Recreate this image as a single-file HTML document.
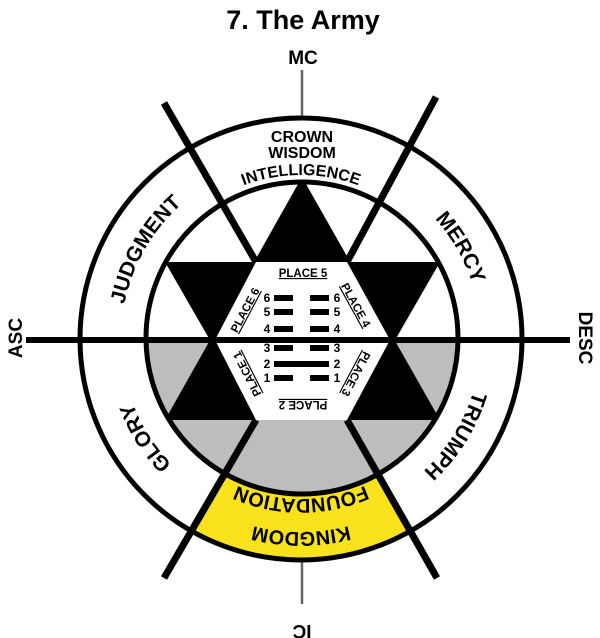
<!DOCTYPE html>
<html><head><meta charset="utf-8"><style>html,body{margin:0;padding:0;background:#fff}svg{display:block}</style></head>
<body>
<svg width="600" height="638" viewBox="0 0 600 638" xmlns="http://www.w3.org/2000/svg" font-family="Liberation Sans, Arial, sans-serif" font-weight="bold">
<defs>
<clipPath id="outer"><circle cx="301" cy="339" r="221"/></clipPath>
<clipPath id="inner"><circle cx="302" cy="338" r="156"/></clipPath>
<path id="c180" d="M121,339 A180,180 0 1 1 481,339 A180,180 0 1 1 121,339"/>
<path id="c193" d="M108,339 A193,193 0 1 1 494,339 A193,193 0 1 1 108,339"/>
<path id="c160" d="M141,339 A160,160 0 1 1 461,339 A160,160 0 1 1 141,339"/>
<path id="c164" d="M137,339 A164,164 0 1 1 465,339 A164,164 0 1 1 137,339"/>
</defs>
<text x="303" y="29" font-size="27" text-anchor="middle">7. The Army</text>
<text x="303" y="64" font-size="19" text-anchor="middle">MC</text>
<line x1="302" y1="70" x2="302" y2="119" stroke="#666" stroke-width="2.5"/>
<line x1="302" y1="560" x2="302" y2="604" stroke="#666" stroke-width="2.5"/>
<text x="302" y="615" font-size="19" text-anchor="middle" transform="rotate(180 302 620)">IC</text>
<text font-size="19" text-anchor="middle" transform="translate(22 338) rotate(-90)">ASC</text>
<text font-size="19" text-anchor="middle" transform="translate(579 338) rotate(90)">DESC</text>

<circle cx="301" cy="339" r="221" fill="#fff"/>
<polygon points="256,420 347,420 472,640 131,640" fill="#f8e21c" clip-path="url(#outer)"/>
<circle cx="302" cy="338" r="156" fill="#fff"/>
<g clip-path="url(#inner)">
<rect x="140" y="340" width="330" height="170" fill="#bdbdbd"/>
<polygon points="302,177 440,420 165,420" fill="#000"/>
<polygon points="165,262 440,262 349,420 256,420" fill="#000"/>
</g>
<polygon points="256,262 347,262 390,340 347,420 256,420 215,340" fill="#fff"/>

<line x1="26" y1="340" x2="570" y2="340" stroke="#000" stroke-width="6"/>
<line x1="164" y1="103" x2="256" y2="262" stroke="#000" stroke-width="7"/>
<line x1="436" y1="97" x2="347" y2="262" stroke="#000" stroke-width="7"/>
<line x1="256" y1="420" x2="164" y2="578" stroke="#000" stroke-width="7"/>
<line x1="347" y1="420" x2="437" y2="578" stroke="#000" stroke-width="7"/>
<circle cx="301" cy="339" r="221" fill="none" stroke="#000" stroke-width="5"/>
<circle cx="302" cy="338" r="156" fill="none" stroke="#000" stroke-width="5"/>

<text x="302" y="142" font-size="16" text-anchor="middle">CROWN</text>
<text x="302" y="158" font-size="16" text-anchor="middle">WISDOM</text>
<text font-size="16" text-anchor="middle"><textPath href="#c164" startOffset="25%">INTELLIGENCE</textPath></text>
<text font-size="21" text-anchor="middle"><textPath href="#c180" startOffset="8.3%">JUDGMENT</textPath></text>
<text font-size="21" text-anchor="middle"><textPath href="#c180" startOffset="41.7%">MERCY</textPath></text>
<text font-size="21" text-anchor="middle"><textPath href="#c180" startOffset="58.9%">TRIUMPH</textPath></text>
<text font-size="21" text-anchor="middle"><textPath href="#c180" startOffset="91%">GLORY</textPath></text>
<text font-size="20" text-anchor="middle"><textPath href="#c193" startOffset="75%">KINGDOM</textPath></text>
<text font-size="20" text-anchor="middle"><textPath href="#c160" startOffset="75%">FOUNDATION</textPath></text>

<g font-size="11.5" text-anchor="middle" text-decoration="underline">
<text x="303" y="277">PLACE 5</text>
<text transform="translate(245 310) rotate(-62)" y="4">PLACE 6</text>
<text transform="translate(356 305) rotate(61)" y="4">PLACE 4</text>
<text transform="translate(356 374) rotate(118)" y="4">PLACE 3</text>
<text transform="translate(303 405) rotate(180)" y="4">PLACE 2</text>
<text transform="translate(247 374) rotate(-117)" y="4">PLACE 1</text>
</g>
<g font-size="12" text-anchor="middle">
<text x="267" y="302">6</text><text x="337" y="302">6</text>
<text x="267" y="316">5</text><text x="337" y="316">5</text>
<text x="267" y="333">4</text><text x="337" y="333">4</text>
<text x="267" y="352">3</text><text x="337" y="352">3</text>
<text x="267" y="368">2</text><text x="337" y="368">2</text>
<text x="267" y="382">1</text><text x="337" y="382">1</text>
</g>
<g fill="#000">
<rect x="274" y="295" width="19" height="6"/><rect x="310" y="295" width="19" height="6"/>
<rect x="274" y="309" width="19" height="6"/><rect x="310" y="309" width="19" height="6"/>
<rect x="274" y="326" width="19" height="6"/><rect x="310" y="326" width="19" height="6"/>
<rect x="274" y="345" width="19" height="6"/><rect x="310" y="345" width="19" height="6"/>
<rect x="274" y="361" width="55" height="6"/>
<rect x="274" y="375" width="19" height="6"/><rect x="310" y="375" width="19" height="6"/>
</g>
</svg>
</body></html>
